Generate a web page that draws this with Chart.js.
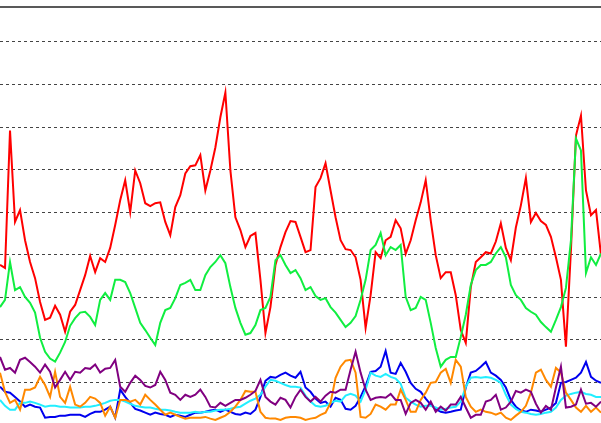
<!DOCTYPE html>
<html>
<head>
<meta charset="utf-8">
<script src="https://cdn.jsdelivr.net/npm/chart.js@4/dist/chart.umd.min.js"></script>
<style>
    html, body { margin: 0; padding: 0; background: #fff; overflow: hidden; }
    #wrap { width: 601px; height: 425px; position: relative; }
</style>
</head>
<body>
<div id="wrap"><canvas id="grafico"></canvas></div>
<script>
// series values, one sample every 5 px
const rojo = [
    37.6, 36.9, 69.2, 47.7, 50.5, 43.4, 38.3, 34.5, 28.9, 24.7,
    25.2, 28.0, 25.9, 21.9, 26.6, 28.2, 31.7, 35.2, 39.7, 35.9,
    39.2, 38.3, 41.6, 47.0, 52.8, 57.5, 50.0, 59.8, 56.8, 52.1,
    51.4, 52.1, 52.3, 47.7, 44.6, 51.2, 54.0, 59.1, 60.8, 61.0,
    63.4, 55.1, 59.8, 65.2, 72.3, 78.1, 59.8, 48.8, 45.8, 41.8,
    44.4, 45.1, 34.1, 21.6, 27.7, 37.6, 41.8, 45.3, 47.9, 47.7,
    44.2, 40.6, 41.1, 55.9, 58.0, 61.5, 55.1, 48.8, 43.4, 41.3,
    41.1, 39.4, 34.1, 22.8, 30.5, 40.6, 39.2, 43.4, 44.2, 48.1,
    46.2, 40.2, 43.4, 48.1, 52.3, 57.5, 48.1, 39.9, 34.5, 35.9,
    35.9, 30.5, 22.3, 19.3, 32.4, 38.3, 39.4, 40.6, 40.3, 43.1,
    47.4, 41.6, 38.7, 46.4, 51.6, 58.0, 47.7, 49.8, 47.9, 47.0,
    44.2, 39.4, 34.1, 18.4, 41.1, 68.0, 72.7, 55.1, 49.3, 50.5,
    39.9
];
const verde = [
    27.7, 29.4, 38.3, 31.7, 32.4, 30.1, 28.7, 26.4, 20.5, 17.2,
    15.6, 14.9, 17.0, 19.5, 23.3, 25.1, 26.4, 26.6, 25.4, 23.5,
    29.4, 31.0, 29.4, 34.1, 34.1, 33.6, 31.0, 27.5, 24.0, 22.3,
    20.5, 18.8, 24.0, 27.0, 27.5, 29.8, 32.9, 33.4, 34.1, 31.7,
    31.7, 35.2, 37.1, 38.3, 39.9, 38.0, 32.4, 27.5, 24.0, 21.2,
    21.6, 23.5, 27.0, 27.5, 30.1, 38.7, 39.9, 37.6, 35.7, 36.4,
    34.5, 31.7, 32.4, 30.3, 29.4, 29.8, 27.7, 26.4, 24.7, 23.0,
    24.0, 25.6, 29.4, 34.1, 41.1, 42.3, 45.1, 39.9, 41.8, 41.1,
    42.3, 30.1, 27.0, 27.5, 30.1, 29.4, 24.0, 18.1, 13.7, 15.3,
    16.0, 16.0, 20.7, 25.9, 32.9, 36.4, 37.6, 37.6, 38.3, 40.3,
    41.8, 39.4, 32.9, 30.5, 29.4, 27.5, 26.6, 25.9, 24.2, 23.0,
    21.9, 24.7, 27.7, 32.2, 43.4, 67.3, 64.5, 35.7, 39.4, 37.6,
    40.3
];
const morado = [
    16.0, 13.0, 13.4, 12.3, 15.3, 15.8, 14.8, 13.7, 12.3, 14.2,
    12.5, 8.8, 10.6, 12.5, 10.6, 12.5, 12.3, 13.4, 13.2, 14.2,
    12.3, 13.2, 13.4, 15.3, 9.0, 7.8, 9.9, 11.6, 10.6, 9.2,
    8.8, 9.4, 12.5, 10.6, 7.6, 7.1, 5.9, 7.1, 6.6, 7.1,
    8.3, 6.6, 4.3, 4.1, 5.2, 4.5, 5.2, 5.9, 5.9, 6.4,
    7.1, 8.0, 10.6, 6.6, 5.5, 4.8, 6.4, 5.9, 4.1, 6.6,
    8.3, 6.6, 5.5, 6.6, 5.5, 6.9, 7.8, 7.6, 8.3, 8.3,
    13.0, 17.2, 12.3, 8.3, 5.9, 6.4, 6.6, 6.4, 7.3, 5.9,
    5.9, 2.6, 5.2, 5.9, 5.2, 3.6, 5.5, 3.1, 4.3, 3.4,
    4.8, 4.8, 6.6, 4.1, 1.7, 2.4, 2.4, 5.5, 5.9, 7.1,
    3.6, 4.1, 5.5, 8.0, 7.6, 8.3, 7.8, 5.0, 2.9, 4.5,
    3.6, 8.8, 13.7, 4.1, 4.3, 4.8, 8.3, 5.0, 5.2, 4.3,
    5.5
];
const naranja = [
    12.3, 7.8, 5.2, 5.9, 3.6, 8.3, 8.3, 8.8, 11.3, 9.4,
    6.6, 12.5, 6.6, 5.2, 9.0, 4.8, 4.3, 5.2, 6.6, 6.2,
    5.2, 2.2, 4.3, 1.7, 5.9, 5.9, 5.5, 5.9, 4.8, 7.1,
    5.9, 4.8, 3.6, 2.4, 2.9, 2.4, 1.9, 1.5, 1.7, 1.7,
    1.7, 1.9, 1.5, 1.2, 1.7, 2.2, 3.1, 4.3, 5.9, 8.0,
    7.8, 7.8, 3.1, 1.7, 1.5, 1.5, 1.2, 1.7, 1.9, 1.9,
    1.7, 1.2, 1.5, 1.7, 2.4, 2.9, 5.2, 11.1, 13.7, 15.1,
    15.3, 12.3, 1.9, 1.7, 2.6, 4.8, 4.3, 3.6, 4.8, 4.8,
    8.3, 5.9, 3.1, 3.1, 5.9, 7.6, 9.9, 10.1, 12.3, 13.2,
    9.9, 15.3, 13.7, 6.6, 4.3, 3.1, 3.6, 3.1, 2.9, 2.4,
    2.9, 1.7, 1.2, 2.2, 3.1, 4.5, 7.6, 12.3, 13.0, 10.6,
    9.0, 13.4, 12.3, 7.6, 5.9, 4.1, 3.1, 4.5, 3.1, 4.1,
    2.9
];
const azul = [
    9.0, 7.8, 7.6, 6.6, 5.5, 4.3, 4.8, 4.3, 4.1, 1.7,
    1.9, 1.9, 2.2, 2.2, 2.4, 2.4, 2.4, 1.9, 2.6, 3.1,
    3.1, 3.6, 4.3, 1.7, 8.3, 6.6, 5.2, 3.8, 3.4, 2.9,
    2.4, 2.9, 2.6, 2.4, 1.9, 2.4, 2.2, 1.9, 2.4, 2.9,
    2.9, 3.1, 3.4, 3.6, 3.1, 3.6, 3.1, 2.6, 2.4, 2.9,
    2.6, 3.6, 6.6, 10.4, 11.3, 11.1, 11.8, 12.3, 11.6, 11.1,
    12.5, 8.8, 7.8, 6.2, 5.2, 5.5, 4.3, 6.4, 5.9, 3.8,
    3.6, 4.5, 6.6, 9.2, 12.5, 12.7, 13.7, 17.4, 12.3, 12.0,
    14.6, 12.5, 9.9, 8.5, 7.8, 6.2, 4.8, 3.8, 3.1, 2.9,
    3.1, 3.4, 3.6, 8.8, 12.3, 12.7, 13.7, 14.8, 12.3, 11.6,
    10.6, 8.8, 5.9, 4.3, 3.4, 3.1, 3.6, 3.4, 3.1, 3.6,
    4.1, 5.2, 9.9, 10.1, 10.6, 11.1, 12.3, 14.8, 11.3, 10.4,
    9.9
];
const cian = [
    5.9, 4.5, 3.6, 3.6, 5.2, 5.2, 5.5, 5.2, 4.8, 4.3,
    4.5, 4.5, 4.3, 4.3, 4.1, 4.1, 4.1, 4.3, 4.3, 4.5,
    4.8, 5.2, 5.7, 5.9, 5.9, 5.5, 5.0, 4.5, 4.3, 4.1,
    4.1, 3.8, 3.6, 3.6, 3.4, 3.1, 2.9, 2.9, 2.9, 3.1,
    2.9, 3.1, 3.1, 3.4, 3.6, 3.6, 3.8, 4.1, 4.3, 5.0,
    5.7, 6.2, 7.1, 9.0, 10.6, 10.4, 9.9, 9.4, 9.0, 9.0,
    8.8, 6.9, 5.5, 4.5, 4.3, 4.5, 5.2, 5.7, 5.5, 6.9,
    7.3, 6.9, 5.5, 8.3, 12.3, 11.6, 11.3, 12.0, 11.3, 10.9,
    9.7, 6.4, 5.5, 4.8, 4.3, 4.5, 4.5, 4.1, 3.6, 3.8,
    4.1, 4.3, 5.5, 9.0, 11.1, 11.3, 11.1, 11.3, 11.1, 10.6,
    9.9, 7.1, 4.8, 3.8, 3.1, 2.9, 2.6, 2.4, 2.6, 2.9,
    3.1, 4.1, 5.9, 6.9, 7.3, 7.6, 7.8, 7.3, 7.1, 6.6,
    6.6
];
const etiquetas = rojo.map((_, i) => i);

function serie(data, color) {
    return {
        data: data,
        borderColor: color,
        borderWidth: 2,
        pointRadius: 0,
        tension: 0,
        fill: false
    };
}

// solid frame line along the top of the plot
const lineaSuperior = {
    id: 'lineaSuperior',
    afterDraw(chart) {
        const { ctx, chartArea } = chart;
        ctx.save();
        ctx.strokeStyle = '#222';
        ctx.lineWidth = 1.5;
        ctx.beginPath();
        ctx.moveTo(chartArea.left, chartArea.top);
        ctx.lineTo(chartArea.right, chartArea.top);
        ctx.stroke();
        ctx.restore();
    }
};

const ctx = document.getElementById('grafico');
new Chart(ctx, {
    type: 'line',
    data: {
        labels: etiquetas,
        // first dataset is drawn on top
        datasets: [
            serie(verde, '#10ee40'),
            serie(rojo, '#ff0000'),
            serie(morado, '#800080'),
            serie(naranja, '#ff8800'),
            serie(cian, '#22eeff'),
            serie(azul, '#0000ee')
        ]
    },
    options: {
        responsive: true,
        maintainAspectRatio: false,
        animation: false,
        layout: { padding: { top: 7, left: 0, right: 0, bottom: 0 } },
        plugins: { legend: { display: false }, tooltip: { enabled: false } },
        scales: {
            x: {
                display: false,
                offset: false
            },
            y: {
                min: 0,
                max: 98.2,
                ticks: { display: false, stepSize: 10 },
                afterBuildTicks: function (scale) {
                    scale.ticks = scale.ticks.filter(t => t.value > 0 && t.value % 10 === 0);
                },
                grid: { color: '#444', lineWidth: 1, drawTicks: false },
                border: { display: false, dash: [3, 3] }
            }
        }
    },
    plugins: [lineaSuperior]
});
</script>
</body>
</html>
